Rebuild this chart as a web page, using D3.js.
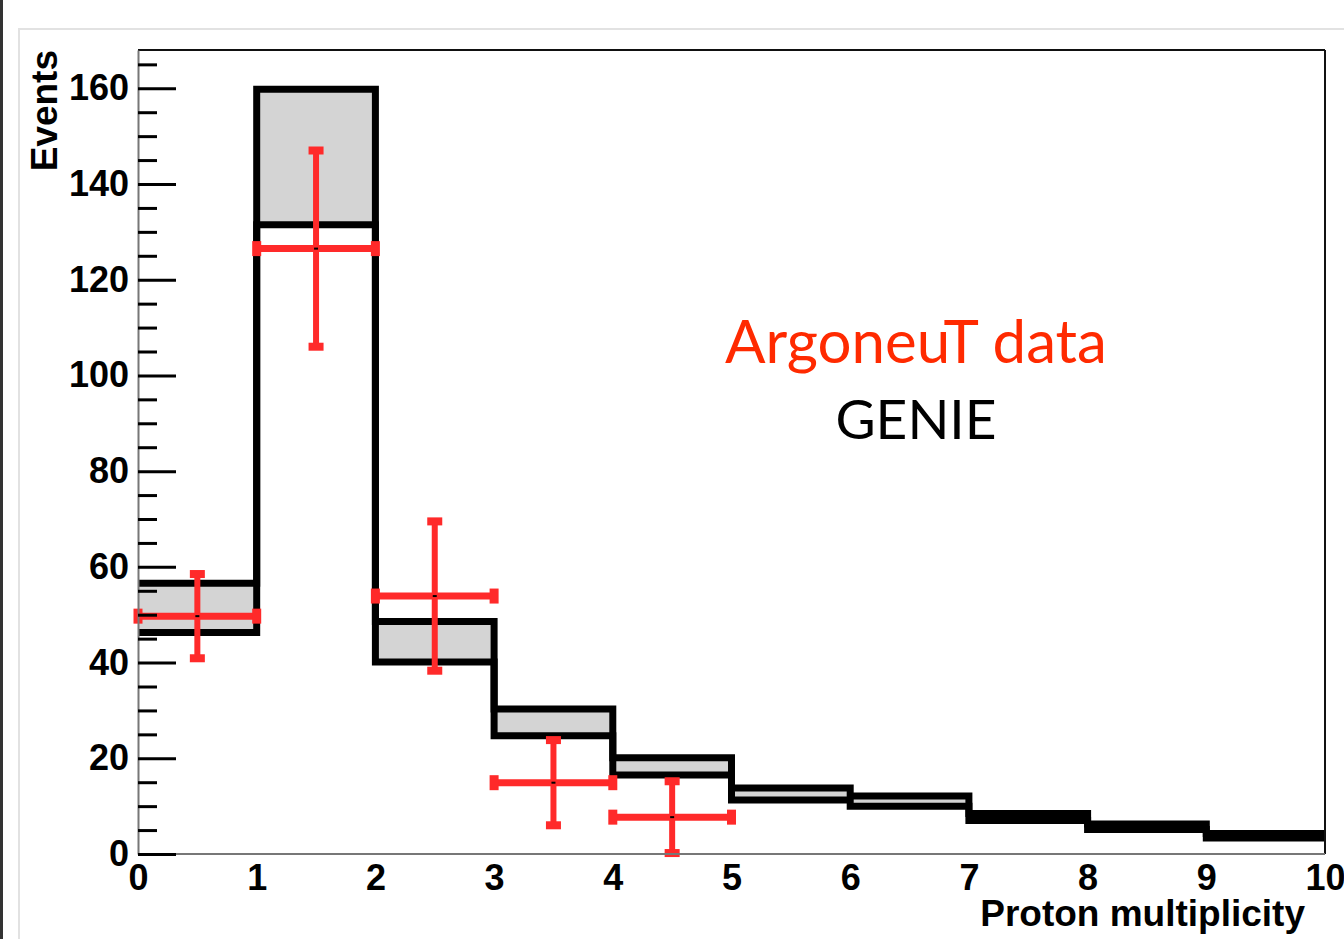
<!DOCTYPE html>
<html>
<head>
<meta charset="utf-8">
<script src="https://cdn.jsdelivr.net/npm/d3@7"></script>
<style>
body { margin: 0; background: #fff; }
svg { display: block; }
.tick text { font-family: "Liberation Sans", Arial, sans-serif; font-weight: bold; }
</style>
</head>
<body>
<svg id="chart" width="1344" height="939"></svg>
<script>
// GENIE band: upper and lower edge per bin
var binEdges = [0, 1, 2, 3, 4, 5, 6, 7, 8, 9, 10];
var genieHigh = [56.6, 159.8, 48.6, 30.3, 20.1, 13.8, 12.1, 8.45, 6.27, 4.28];
var genieLow  = [46.3, 131.5, 40.1, 24.7, 16.5, 11.3, 10.0, 6.98, 5.12, 3.34];

// ArgoneuT data points
var dataX   = [0.5, 1.5, 2.5, 3.5, 4.5];
var dataY   = [49.7, 126.5, 53.9, 14.9, 7.7];
var dataErr = [8.8, 20.5, 15.6, 8.9, 7.5];

var xTicks = [0, 1, 2, 3, 4, 5, 6, 7, 8, 9, 10];
var yMajor = [0, 20, 40, 60, 80, 100, 120, 140, 160];
var yMinor = [5, 10, 15, 25, 30, 35, 45, 50, 55, 65, 70, 75, 85, 90, 95, 105, 110, 115, 125, 130, 135, 145, 150, 155, 165];

var red = "#ff2a2a";
var svg = d3.select("#chart");

// page decorations
svg.append("line").attr("x1", 1.5).attr("x2", 1.5).attr("y1", 0).attr("y2", 939)
    .style("stroke", "#333").style("stroke-width", 3);
svg.append("rect").attr("x", 19).attr("y", 29).attr("width", 1400).attr("height", 1000)
    .style("fill", "none").style("stroke", "#e2e2e2").style("stroke-width", 2);

var x = d3.scaleLinear().domain([0, 10]).range([138, 1325]);
var y = d3.scaleLinear().domain([0, 168]).range([854, 50]);

// grey band
svg.selectAll("rect.band")
    .data(genieHigh)
    .enter().append("rect")
    .attr("class", "band")
    .attr("x", function(d, i) { return x(binEdges[i]); })
    .attr("width", function(d, i) { return x(binEdges[i + 1]) - x(binEdges[i]); })
    .attr("y", function(d) { return y(d); })
    .attr("height", function(d, i) { return y(genieLow[i]) - y(d); })
    .style("fill", "#d4d4d4");

function stepPoints(vals) {
    var pts = [];
    vals.forEach(function(v, i) {
        pts.push([binEdges[i], v]);
        pts.push([binEdges[i + 1], v]);
    });
    return pts;
}

var line = d3.line()
    .x(function(d) { return x(d[0]); })
    .y(function(d) { return y(d[1]); });

[genieHigh, genieLow].forEach(function(vals) {
    svg.append("path")
        .attr("d", line(stepPoints(vals)))
        .style("fill", "none")
        .style("stroke", "#000")
        .style("stroke-width", 7)
        .style("stroke-linejoin", "miter");
});

// error bars
var pts = svg.selectAll("g.pt")
    .data(dataX)
    .enter().append("g")
    .attr("class", "pt");

pts.append("line")
    .attr("x1", function(d) { return x(d - 0.5); })
    .attr("x2", function(d) { return x(d + 0.5); })
    .attr("y1", function(d, i) { return y(dataY[i]); })
    .attr("y2", function(d, i) { return y(dataY[i]); })
    .style("stroke", red).style("stroke-width", 7);

pts.append("line")
    .attr("x1", function(d) { return x(d); })
    .attr("x2", function(d) { return x(d); })
    .attr("y1", function(d, i) { return y(dataY[i] + dataErr[i]); })
    .attr("y2", function(d, i) { return y(dataY[i] - dataErr[i]); })
    .style("stroke", red).style("stroke-width", 6);

// caps
[-0.5, 0.5].forEach(function(off) {
    pts.append("rect")
        .attr("x", function(d) { return x(d + off) - 4.5; })
        .attr("y", function(d, i) { return y(dataY[i]) - 7.5; })
        .attr("width", 9).attr("height", 15)
        .style("fill", red);
});
[-1, 1].forEach(function(sgn) {
    pts.append("rect")
        .attr("x", function(d) { return x(d) - 7.5; })
        .attr("y", function(d, i) { return y(dataY[i] + sgn * dataErr[i]) - 4; })
        .attr("width", 15).attr("height", 8)
        .style("fill", red);
});
pts.append("rect")
    .attr("x", function(d) { return x(d) - 2; })
    .attr("y", function(d, i) { return y(dataY[i]) - 1; })
    .attr("width", 4).attr("height", 2)
    .style("fill", "#000");

// frame
svg.append("line").attr("x1", 138).attr("x2", 1325).attr("y1", 50).attr("y2", 50)
    .style("stroke", "#111").style("stroke-width", 2);
svg.append("line").attr("x1", 1325).attr("x2", 1325).attr("y1", 50).attr("y2", 854)
    .style("stroke", "#111").style("stroke-width", 2);
svg.append("line").attr("x1", 138).attr("x2", 1325).attr("y1", 854).attr("y2", 854)
    .style("stroke", "#777").style("stroke-width", 2);

// y axis
var yAxis = svg.append("g")
    .attr("transform", "translate(138,0)")
    .call(d3.axisLeft(y).tickValues(yMajor).tickSizeInner(-38).tickSizeOuter(0).tickPadding(9));
yAxis.select(".domain").style("stroke", "#777").style("stroke-width", 2);
yAxis.selectAll(".tick line").style("stroke", "#000").style("stroke-width", 3);
yAxis.selectAll(".tick text").style("font-size", "36px").style("fill", "#000");

var yMinorAxis = svg.append("g")
    .attr("transform", "translate(138,0)")
    .call(d3.axisLeft(y).tickValues(yMinor).tickSizeInner(-19).tickSizeOuter(0).tickFormat(""));
yMinorAxis.select(".domain").remove();
yMinorAxis.selectAll(".tick line").style("stroke", "#000").style("stroke-width", 3);

// x axis
var xAxis = svg.append("g")
    .attr("transform", "translate(0,854)")
    .call(d3.axisBottom(x).tickValues(xTicks).tickSize(0).tickPadding(10).tickFormat(d3.format("d")));
xAxis.select(".domain").remove();
xAxis.selectAll(".tick text").style("font-size", "36px").style("fill", "#000");

// axis titles
svg.append("text")
    .attr("transform", "translate(57,50) rotate(-90)")
    .attr("text-anchor", "end")
    .style("font-family", "'Liberation Sans', Arial, sans-serif")
    .style("font-weight", "bold").style("font-size", "37px")
    .text("Events");

svg.append("text")
    .attr("x", 1305).attr("y", 926)
    .attr("text-anchor", "end")
    .style("font-family", "'Liberation Sans', Arial, sans-serif")
    .style("font-weight", "bold").style("font-size", "37px")
    .text("Proton multiplicity");

// legend
svg.append("text")
    .attr("x", 916).attr("y", 363)
    .attr("text-anchor", "middle")
    .style("font-family", "Lato, 'Open Sans', sans-serif")
    .style("font-size", "60px").style("fill", "#ff2a00")
    .text("ArgoneuT data");

svg.append("text")
    .attr("x", 916).attr("y", 439)
    .attr("text-anchor", "middle")
    .style("font-family", "Lato, 'Open Sans', sans-serif")
    .style("font-size", "55px").style("fill", "#000")
    .text("GENIE");
</script>
</body>
</html>
